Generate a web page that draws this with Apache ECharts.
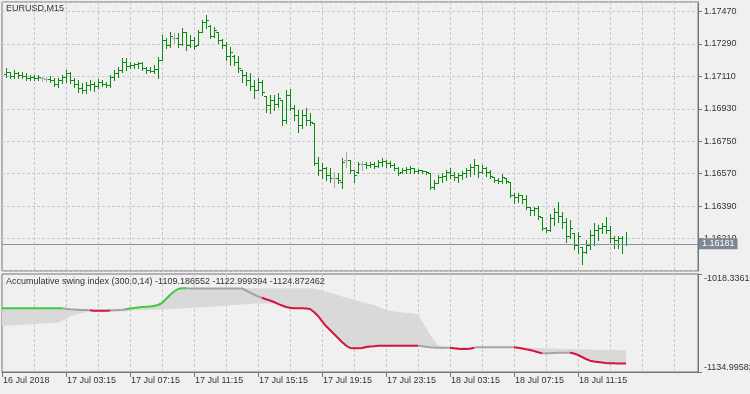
<!DOCTYPE html>
<html><head><meta charset="utf-8">
<script src="https://cdn.jsdelivr.net/npm/echarts@6/dist/echarts.min.js"></script>
<style>html,body{margin:0;padding:0;background:#f0f0f0;}#c{width:750px;height:394px;}</style>
</head><body><div id="c"></div>
<script>
const symbolTitle = 'EURUSD,M15';
const indicatorTitle = 'Accumulative swing index (300.0,14) -1109.186552 -1122.999394 -1124.872462';
const xTickLabels = ['16 Jul 2018','17 Jul 03:15','17 Jul 07:15','17 Jul 11:15','17 Jul 15:15','17 Jul 19:15','17 Jul 23:15','18 Jul 03:15','18 Jul 07:15','18 Jul 11:15'];
const categoryCount = 175;
const priceTicks = [1.16210,1.16390,1.16570,1.16750,1.16930,1.17110,1.17290,1.17470];
const priceMax = 1.17523;
const lastPrice = 1.16181;
const asiRange = [-1134.9958, -1018.3361];
const asiLabels = ['-1018.336104', '-1134.995820'];

// OHLC bars (bar k sits on category k+1)
const barOpen = [1.17123,1.17134,1.17112,1.17129,1.17118,1.17112,1.17101,1.17106,1.17101,1.17101,1.17095,1.17095,1.17090,1.17068,1.17090,1.17106,1.17129,1.17090,1.17068,1.17045,1.17034,1.17062,1.17068,1.17056,1.17079,1.17068,1.17062,1.17106,1.17129,1.17145,1.17190,1.17167,1.17173,1.17179,1.17184,1.17156,1.17145,1.17140,1.17151,1.17201,1.17312,1.17284,1.17323,1.17323,1.17290,1.17356,1.17284,1.17312,1.17284,1.17356,1.17412,1.17390,1.17334,1.17356,1.17312,1.17284,1.17223,1.17223,1.17190,1.17145,1.17118,1.17090,1.17056,1.17034,1.17079,1.17001,1.16951,1.16979,1.16957,1.16979,1.16868,1.17007,1.16934,1.16896,1.16840,1.16896,1.16868,1.16851,1.16629,1.16590,1.16601,1.16563,1.16546,1.16546,1.16524,1.16646,1.16646,1.16590,1.16579,1.16624,1.16624,1.16618,1.16624,1.16612,1.16635,1.16640,1.16629,1.16618,1.16601,1.16579,1.16590,1.16596,1.16601,1.16585,1.16590,1.16585,1.16574,1.16496,1.16518,1.16551,1.16557,1.16579,1.16563,1.16551,1.16563,1.16574,1.16590,1.16607,1.16618,1.16579,1.16601,1.16579,1.16551,1.16535,1.16529,1.16546,1.16524,1.16452,1.16440,1.16452,1.16429,1.16385,1.16368,1.16379,1.16329,1.16268,1.16257,1.16324,1.16357,1.16335,1.16302,1.16224,1.16241,1.16174,1.16163,1.16135,1.16174,1.16230,1.16257,1.16268,1.16280,1.16257,1.16213,1.16202,1.16213,1.16180];
const barHigh = [1.17156,1.17134,1.17145,1.17134,1.17134,1.17129,1.17118,1.17118,1.17118,1.17106,1.17106,1.17112,1.17101,1.17101,1.17118,1.17145,1.17134,1.17101,1.17090,1.17073,1.17079,1.17090,1.17079,1.17095,1.17090,1.17079,1.17118,1.17145,1.17162,1.17212,1.17212,1.17190,1.17184,1.17190,1.17190,1.17162,1.17162,1.17173,1.17217,1.17340,1.17323,1.17356,1.17351,1.17351,1.17378,1.17356,1.17340,1.17328,1.17367,1.17423,1.17451,1.17395,1.17384,1.17356,1.17317,1.17301,1.17273,1.17229,1.17223,1.17145,1.17134,1.17129,1.17090,1.17101,1.17090,1.17001,1.17007,1.17007,1.17018,1.16979,1.17034,1.17040,1.16951,1.16923,1.16923,1.16934,1.16907,1.16851,1.16662,1.16629,1.16607,1.16601,1.16579,1.16574,1.16657,1.16690,1.16646,1.16590,1.16635,1.16640,1.16635,1.16635,1.16635,1.16646,1.16657,1.16646,1.16640,1.16629,1.16607,1.16601,1.16607,1.16612,1.16601,1.16596,1.16590,1.16585,1.16574,1.16535,1.16563,1.16574,1.16590,1.16601,1.16579,1.16574,1.16585,1.16601,1.16624,1.16651,1.16618,1.16618,1.16607,1.16590,1.16551,1.16546,1.16568,1.16546,1.16524,1.16463,1.16463,1.16452,1.16452,1.16385,1.16385,1.16390,1.16329,1.16274,1.16346,1.16379,1.16413,1.16357,1.16324,1.16313,1.16241,1.16246,1.16163,1.16202,1.16257,1.16296,1.16285,1.16296,1.16329,1.16280,1.16224,1.16224,1.16224,1.16246];
const barLow = [1.17106,1.17101,1.17101,1.17101,1.17101,1.17090,1.17090,1.17090,1.17090,1.17084,1.17084,1.17079,1.17056,1.17051,1.17073,1.17079,1.17073,1.17051,1.17023,1.17018,1.17018,1.17034,1.17029,1.17045,1.17056,1.17051,1.17051,1.17090,1.17106,1.17134,1.17145,1.17156,1.17156,1.17156,1.17145,1.17129,1.17134,1.17129,1.17101,1.17201,1.17267,1.17273,1.17295,1.17273,1.17284,1.17256,1.17273,1.17262,1.17284,1.17356,1.17378,1.17323,1.17328,1.17295,1.17267,1.17201,1.17173,1.17173,1.17134,1.17079,1.17062,1.17034,1.16990,1.17034,1.17007,1.16912,1.16907,1.16923,1.16940,1.16840,1.16851,1.16923,1.16868,1.16801,1.16823,1.16840,1.16840,1.16618,1.16563,1.16546,1.16535,1.16524,1.16496,1.16518,1.16490,1.16607,1.16574,1.16524,1.16574,1.16590,1.16601,1.16607,1.16601,1.16607,1.16612,1.16607,1.16607,1.16590,1.16563,1.16574,1.16574,1.16574,1.16574,1.16574,1.16574,1.16568,1.16485,1.16485,1.16518,1.16524,1.16535,1.16546,1.16535,1.16524,1.16540,1.16551,1.16557,1.16568,1.16551,1.16574,1.16557,1.16546,1.16524,1.16518,1.16518,1.16518,1.16440,1.16407,1.16413,1.16407,1.16374,1.16341,1.16341,1.16318,1.16257,1.16246,1.16252,1.16285,1.16302,1.16268,1.16191,1.16213,1.16152,1.16130,1.16069,1.16130,1.16152,1.16174,1.16202,1.16241,1.16241,1.16191,1.16157,1.16157,1.16130,1.16174];
const barClose = [1.17134,1.17112,1.17129,1.17118,1.17112,1.17101,1.17106,1.17101,1.17106,1.17101,1.17095,1.17090,1.17068,1.17090,1.17106,1.17129,1.17090,1.17068,1.17045,1.17034,1.17062,1.17068,1.17056,1.17079,1.17068,1.17062,1.17106,1.17129,1.17145,1.17190,1.17167,1.17173,1.17179,1.17184,1.17156,1.17145,1.17140,1.17151,1.17201,1.17312,1.17284,1.17334,1.17323,1.17290,1.17356,1.17284,1.17312,1.17278,1.17356,1.17412,1.17423,1.17334,1.17367,1.17312,1.17284,1.17223,1.17245,1.17190,1.17156,1.17118,1.17090,1.17056,1.17034,1.17079,1.17023,1.16951,1.16979,1.16957,1.16990,1.16868,1.17007,1.16934,1.16896,1.16840,1.16896,1.16868,1.16857,1.16629,1.16590,1.16601,1.16563,1.16546,1.16546,1.16535,1.16635,1.16646,1.16590,1.16563,1.16624,1.16624,1.16618,1.16624,1.16612,1.16635,1.16640,1.16629,1.16618,1.16601,1.16574,1.16590,1.16596,1.16601,1.16585,1.16590,1.16585,1.16579,1.16496,1.16518,1.16551,1.16557,1.16579,1.16563,1.16551,1.16563,1.16574,1.16590,1.16607,1.16618,1.16579,1.16601,1.16579,1.16557,1.16535,1.16529,1.16551,1.16529,1.16452,1.16440,1.16452,1.16429,1.16385,1.16368,1.16379,1.16335,1.16268,1.16257,1.16324,1.16357,1.16335,1.16302,1.16224,1.16268,1.16174,1.16224,1.16135,1.16174,1.16230,1.16257,1.16268,1.16280,1.16257,1.16213,1.16202,1.16213,1.16180,1.16181];

// Accumulative swing index line (category 0..156)
const asiLine = [-1059.17,-1059.17,-1059.17,-1059.17,-1059.17,-1059.17,-1059.17,-1059.17,-1059.17,-1059.17,-1059.17,-1059.17,-1059.17,-1059.17,-1059.17,-1059.17,
-1059.76,-1060.24,-1060.60,-1060.83,-1061.07,-1061.19,-1061.55,
-1062.02,-1062.02,-1062.02,-1062.02,-1061.91,
-1061.55,-1061.19,-1060.83,-1060.36,
-1059.40,-1058.81,-1058.21,-1057.62,-1057.38,-1057.02,-1056.43,-1055.24,-1052.86,-1048.10,-1043.34,-1039.17,-1036.19,-1035.36,-1035.36,
-1035.60,-1035.60,-1035.60,-1035.60,-1035.60,-1035.60,-1035.60,-1035.60,-1035.60,-1035.60,-1035.60,-1035.60,-1035.60,-1035.60,
-1037.98,-1040.36,-1042.74,-1045.12,-1046.67,
-1048.45,-1049.88,-1051.67,-1053.81,-1055.83,-1057.62,-1058.57,-1059.05,-1059.17,-1059.17,-1059.40,-1060.00,-1063.57,-1068.33,-1074.29,-1080.24,-1085.00,-1089.76,-1094.52,-1099.28,-1103.45,-1106.43,-1106.78,-1106.78,-1106.43,-1105.24,-1104.64,-1104.28,
-1103.69,-1103.69,-1103.69,-1103.69,-1103.69,-1103.69,-1103.69,-1103.69,-1103.69,-1103.69,-1103.69,
-1104.28,-1104.88,-1105.47,-1105.95,-1106.07,-1106.07,-1106.07,-1106.07,
-1106.78,-1107.38,-1107.62,-1107.62,-1107.38,-1106.19,
-1105.59,-1105.59,-1105.59,-1105.59,-1105.59,-1105.59,-1105.59,-1105.59,-1105.59,-1105.59,
-1106.19,-1107.02,-1107.97,-1108.81,-1110.00,-1111.54,-1112.62,
-1112.74,-1112.62,-1112.38,-1112.14,-1112.02,-1112.02,-1112.14,
-1112.97,-1114.76,-1117.14,-1119.52,-1121.54,-1122.50,-1123.09,-1123.69,-1124.28,-1124.64,-1124.60,-1124.75,-1124.85,-1124.87];
// colour state of each segment ending at a point: g = rising, r = falling, n = neutral
const asiColorRuns = [['g',16],['n',7],['r',5],['n',4],['g',15],['n',19],['r',39],['n',8],['r',6],['n',10],['r',7],['n',7],['r',14]];
// shaded band edges
const bandHigh = [-1059.17,-1059.17,-1059.17,-1059.17,-1059.17,-1059.17,-1059.17,-1059.17,-1059.17,-1059.17,-1059.17,-1059.17,-1059.17,-1059.17,-1059.17,-1059.17,
-1059.76,-1060.24,-1060.60,-1060.83,-1061.07,-1061.19,-1061.55,
-1060.60,-1060.60,-1060.60,-1060.60,-1060.60,-1060.60,-1060.60,-1060.60,-1060.60,
-1059.40,-1058.81,-1058.21,-1057.62,-1057.38,-1057.02,-1056.43,-1055.24,-1052.86,-1048.10,-1043.34,-1039.17,-1036.19,-1035.36,-1035.36,
-1035.36,-1035.36,-1035.36,-1035.36,-1035.36,-1035.36,-1035.36,-1035.36,-1035.36,-1035.36,-1035.36,-1035.36,-1035.36,-1035.36,-1035.36,-1035.36,-1035.36,-1035.36,-1035.36,-1035.36,-1035.36,-1035.36,-1035.36,-1035.36,-1035.36,-1035.36,-1035.36,-1035.36,-1035.36,-1035.36,-1035.36,
-1035.95,-1036.79,-1037.98,-1039.17,-1040.72,-1041.91,-1043.34,-1045.12,-1046.31,-1047.50,-1048.93,-1050.24,-1051.67,-1052.86,-1054.05,-1055.24,-1057.38,-1059.17,-1061.19,-1062.38,-1062.98,-1063.57,-1064.17,-1064.76,-1065.00,-1065.36,-1067.14,-1074.29,-1082.62,-1090.36,-1097.50,-1102.86,-1104.64,
-1105.24,-1105.24,-1105.24,-1105.24,-1105.24,-1105.24,-1105.24,-1105.24,-1105.24,-1105.24,-1105.24,-1105.24,-1105.24,-1105.24,-1105.24,-1105.24,-1105.24,-1105.24,
-1105.59,-1105.83,-1105.95,-1106.19,-1106.43,-1106.55,-1106.78,-1106.90,-1107.02,-1107.14,-1107.26,-1107.38,-1107.50,-1107.62,-1107.74,-1107.86,-1107.97,-1108.09,-1108.21,-1108.33,-1108.45,-1108.57,-1108.69,-1108.81,-1108.93,-1109.05,-1109.10,-1109.19];
const bandLow = [-1080.24,-1079.94,-1079.64,-1079.35,-1079.05,-1078.75,-1078.45,-1078.16,-1077.86,-1077.56,-1077.26,-1076.97,-1076.67,-1076.37,-1076.07,
-1074.29,-1071.31,-1068.93,-1067.14,-1065.71,-1064.76,-1063.93,-1063.21,
-1062.98,-1062.98,-1062.98,-1062.98,-1062.98,-1062.98,-1062.98,-1062.98,-1062.98,
-1061.78,-1061.55,-1061.43,-1061.19,-1061.07,-1060.95,-1060.83,-1060.60,-1060.36,-1060.12,-1060.00,-1059.76,-1059.64,-1059.40,-1059.17,
-1058.81,-1058.57,-1058.21,-1057.86,-1057.62,-1057.26,-1057.02,-1056.67,-1056.31,-1055.95,-1055.60,-1055.24,-1054.88,-1054.52,-1054.17,-1053.93,-1053.69,-1053.45,
-1053.45,-1053.45,-1053.45,-1053.45,
-1053.81,-1055.83,-1057.62,-1058.57,-1059.05,-1059.17,-1059.17,-1059.40,-1060.00,-1063.57,-1068.33,-1074.29,-1080.24,-1085.00,-1089.76,-1094.52,-1099.28,-1103.45,-1106.43,-1106.78,-1106.78,-1106.43,-1105.24,-1104.64,-1104.28,
-1103.69,-1103.69,-1103.69,-1103.69,-1103.69,-1103.69,-1103.69,-1103.69,-1103.69,-1103.69,-1103.69,
-1104.28,-1104.88,-1105.47,-1105.95,-1106.07,-1106.07,-1106.07,-1106.07,
-1106.78,-1107.38,-1107.62,-1107.62,-1107.38,-1106.19,
-1105.59,-1105.59,-1105.59,-1105.59,-1105.59,-1105.59,-1105.59,-1105.59,-1105.59,-1105.59,
-1106.19,-1107.02,-1107.97,-1108.81,-1110.00,-1111.54,-1112.62,
-1112.74,-1112.62,-1112.38,-1112.14,-1112.02,-1112.02,-1112.14,
-1112.97,-1114.76,-1117.14,-1119.52,-1121.54,-1122.50,-1123.09,-1123.69,-1124.28,-1124.64,-1124.60,-1124.75,-1124.85,-1123.00];

const FONT = '"Liberation Sans", Arial, sans-serif';
const TEXT = '#333333';
const FRAME = '#747474';
const GRIDLINE = '#c9c9c9';
const BAR_UP = '#0e8a12';
const BAR_DOJI = '#a9a9a9';
const COLORS = { g: '#3ccb3c', r: '#d3143f', n: '#a4a4a4' };

const categories = [];
for (let i = 0; i < categoryCount; i++) categories.push(String(i));
const asiState = [];
asiColorRuns.forEach(([c, n]) => { for (let k = 0; k < n; k++) asiState.push(c); });
function segment(code) {
  return asiLine.map((v, i) => (asiState[i] === code || asiState[i + 1] === code) ? v : null);
}
const ohlc = barOpen.map((o, k) => [k + 1, o, barHigh[k], barLow[k], barClose[k]]);
const closeSeries = [null].concat(barClose);
const bandDiff = bandHigh.map((v, i) => v - bandLow[i]);

const step = priceTicks[1] - priceTicks[0];
const tickEvery = 16;
const lastLabelIdx = (xTickLabels.length - 1) * tickEvery;
const tickInterval = (i) => i % tickEvery === 0 && i <= lastLabelIdx;
const splitInterval = (i) => i > 0 && i % 8 === 0;

function renderBar(params, api) {
  const i = api.value(0), o = api.value(1), h = api.value(2), l = api.value(3), c = api.value(4);
  const ph = api.coord([i, h]), pl = api.coord([i, l]), po = api.coord([i, o]), pc = api.coord([i, c]);
  const x = Math.round(ph[0]);
  const yH = Math.round(ph[1]), yL = Math.round(pl[1]);
  const color = o === c ? BAR_DOJI : BAR_UP;
  return { type: 'group', children: [
    { type: 'rect', shape: { x: x, y: yH, width: 1, height: Math.max(1, yL - yH + 1) }, style: { fill: color } },
    { type: 'rect', shape: { x: x - 2, y: Math.round(po[1]), width: 2, height: 1 }, style: { fill: color } },
    { type: 'rect', shape: { x: x + 1, y: Math.round(pc[1]), width: 2, height: 1 }, style: { fill: color } }
  ]};
}

const chart = echarts.init(document.getElementById('c'), null, { renderer: 'canvas' });
const splitLineStyle = { show: true, interval: splitInterval, lineStyle: { color: GRIDLINE, type: [3, 2], width: 1 } };
chart.setOption({
  animation: false,
  backgroundColor: '#f0f0f0',
  textStyle: { fontFamily: FONT },
  title: [
    { text: symbolTitle, left: 6, top: 4, padding: 0, textStyle: { fontSize: 9, fontWeight: 'normal', color: TEXT, fontFamily: FONT } },
    { text: indicatorTitle, left: 6, top: 277, padding: 0, textStyle: { fontSize: 9, fontWeight: 'normal', color: TEXT, fontFamily: FONT } }
  ],
  grid: [
    { left: 2, top: 2, width: 696, height: 269, show: true, borderColor: FRAME, borderWidth: 1, backgroundColor: 'transparent', containLabel: false, outerBoundsMode: 'none' },
    { left: 2, top: 274, width: 696, height: 98, show: true, borderColor: FRAME, borderWidth: 1, backgroundColor: 'transparent', containLabel: false, outerBoundsMode: 'none' }
  ],
  xAxis: [
    { gridIndex: 0, type: 'category', data: categories, boundaryGap: false,
      axisLine: { show: false }, axisTick: { show: false }, axisLabel: { show: false }, splitLine: splitLineStyle },
    { gridIndex: 1, type: 'category', data: categories, boundaryGap: false,
      axisLine: { show: true, lineStyle: { color: FRAME } },
      axisTick: { show: true, interval: tickInterval, length: 5, lineStyle: { color: FRAME } },
      axisLabel: { show: true, interval: tickInterval, formatter: (v, i) => xTickLabels[i / tickEvery] || '',
        align: 'left', margin: 4, padding: [0, 0, 0, 1], fontSize: 9, color: TEXT, fontFamily: FONT },
      splitLine: splitLineStyle }
  ],
  yAxis: [
    { gridIndex: 0, type: 'value', position: 'right', min: priceTicks[0] - step, max: priceMax, interval: step,
      axisLine: { show: true, lineStyle: { color: FRAME } },
      axisTick: { show: true, length: 4, lineStyle: { color: FRAME } },
      axisLabel: { formatter: (v) => v.toFixed(5), fontSize: 9, color: TEXT, margin: 6, fontFamily: FONT, showMinLabel: false, showMaxLabel: false },
      splitLine: { show: true, lineStyle: { color: GRIDLINE, type: [3, 2] } } },
    { gridIndex: 1, type: 'value', position: 'right', min: asiRange[0], max: asiRange[1], interval: asiRange[1] - asiRange[0],
      axisLine: { show: true, lineStyle: { color: FRAME } },
      axisTick: { show: true, length: 4, lineStyle: { color: FRAME } },
      axisLabel: { formatter: (v) => (v > (asiRange[0] + asiRange[1]) / 2 ? asiLabels[0] : asiLabels[1]),
        fontSize: 9, color: TEXT, margin: 6, fontFamily: FONT, verticalAlignMaxLabel: 'top', verticalAlignMinLabel: 'bottom' },
      splitLine: { show: false } }
  ],
  series: [
    { type: 'custom', name: 'EURUSD', xAxisIndex: 0, yAxisIndex: 0, data: ohlc, renderItem: renderBar,
      encode: { x: 0, y: [1, 2, 3, 4] }, clip: true, silent: true, z: 2 },
    { type: 'line', name: 'close', xAxisIndex: 0, yAxisIndex: 0, data: closeSeries, symbol: 'none', silent: true, z: 3,
      lineStyle: { opacity: 0, width: 0 },
      markLine: { silent: true, symbol: ['none', 'none'], data: [{ yAxis: lastPrice }], animation: false, precision: 5,
        lineStyle: { color: '#8592a0', width: 1, type: 'solid' },
        label: { show: true, position: 'end', formatter: lastPrice.toFixed(5), color: '#ffffff', backgroundColor: '#7c8894',
          padding: [1, 3, 1, 3], fontSize: 9, distance: 1, fontFamily: FONT } } },
    { type: 'line', xAxisIndex: 1, yAxisIndex: 1, data: bandLow, stack: 'band', stackStrategy: 'all',
      symbol: 'none', lineStyle: { opacity: 0, width: 0 }, silent: true, z: 1 },
    { type: 'line', xAxisIndex: 1, yAxisIndex: 1, data: bandDiff, stack: 'band', stackStrategy: 'all',
      symbol: 'none', lineStyle: { opacity: 0, width: 0 }, areaStyle: { color: '#d9d9d9', opacity: 1 }, silent: true, z: 1 },
    { type: 'line', xAxisIndex: 1, yAxisIndex: 1, data: segment('n'), symbol: 'none', connectNulls: false,
      lineStyle: { color: COLORS.n, width: 2 }, silent: true, z: 3 },
    { type: 'line', xAxisIndex: 1, yAxisIndex: 1, data: segment('g'), symbol: 'none', connectNulls: false,
      lineStyle: { color: COLORS.g, width: 2 }, silent: true, z: 4 },
    { type: 'line', xAxisIndex: 1, yAxisIndex: 1, data: segment('r'), symbol: 'none', connectNulls: false,
      lineStyle: { color: COLORS.r, width: 2 }, silent: true, z: 4 }
  ]
});
</script>
</body></html>
